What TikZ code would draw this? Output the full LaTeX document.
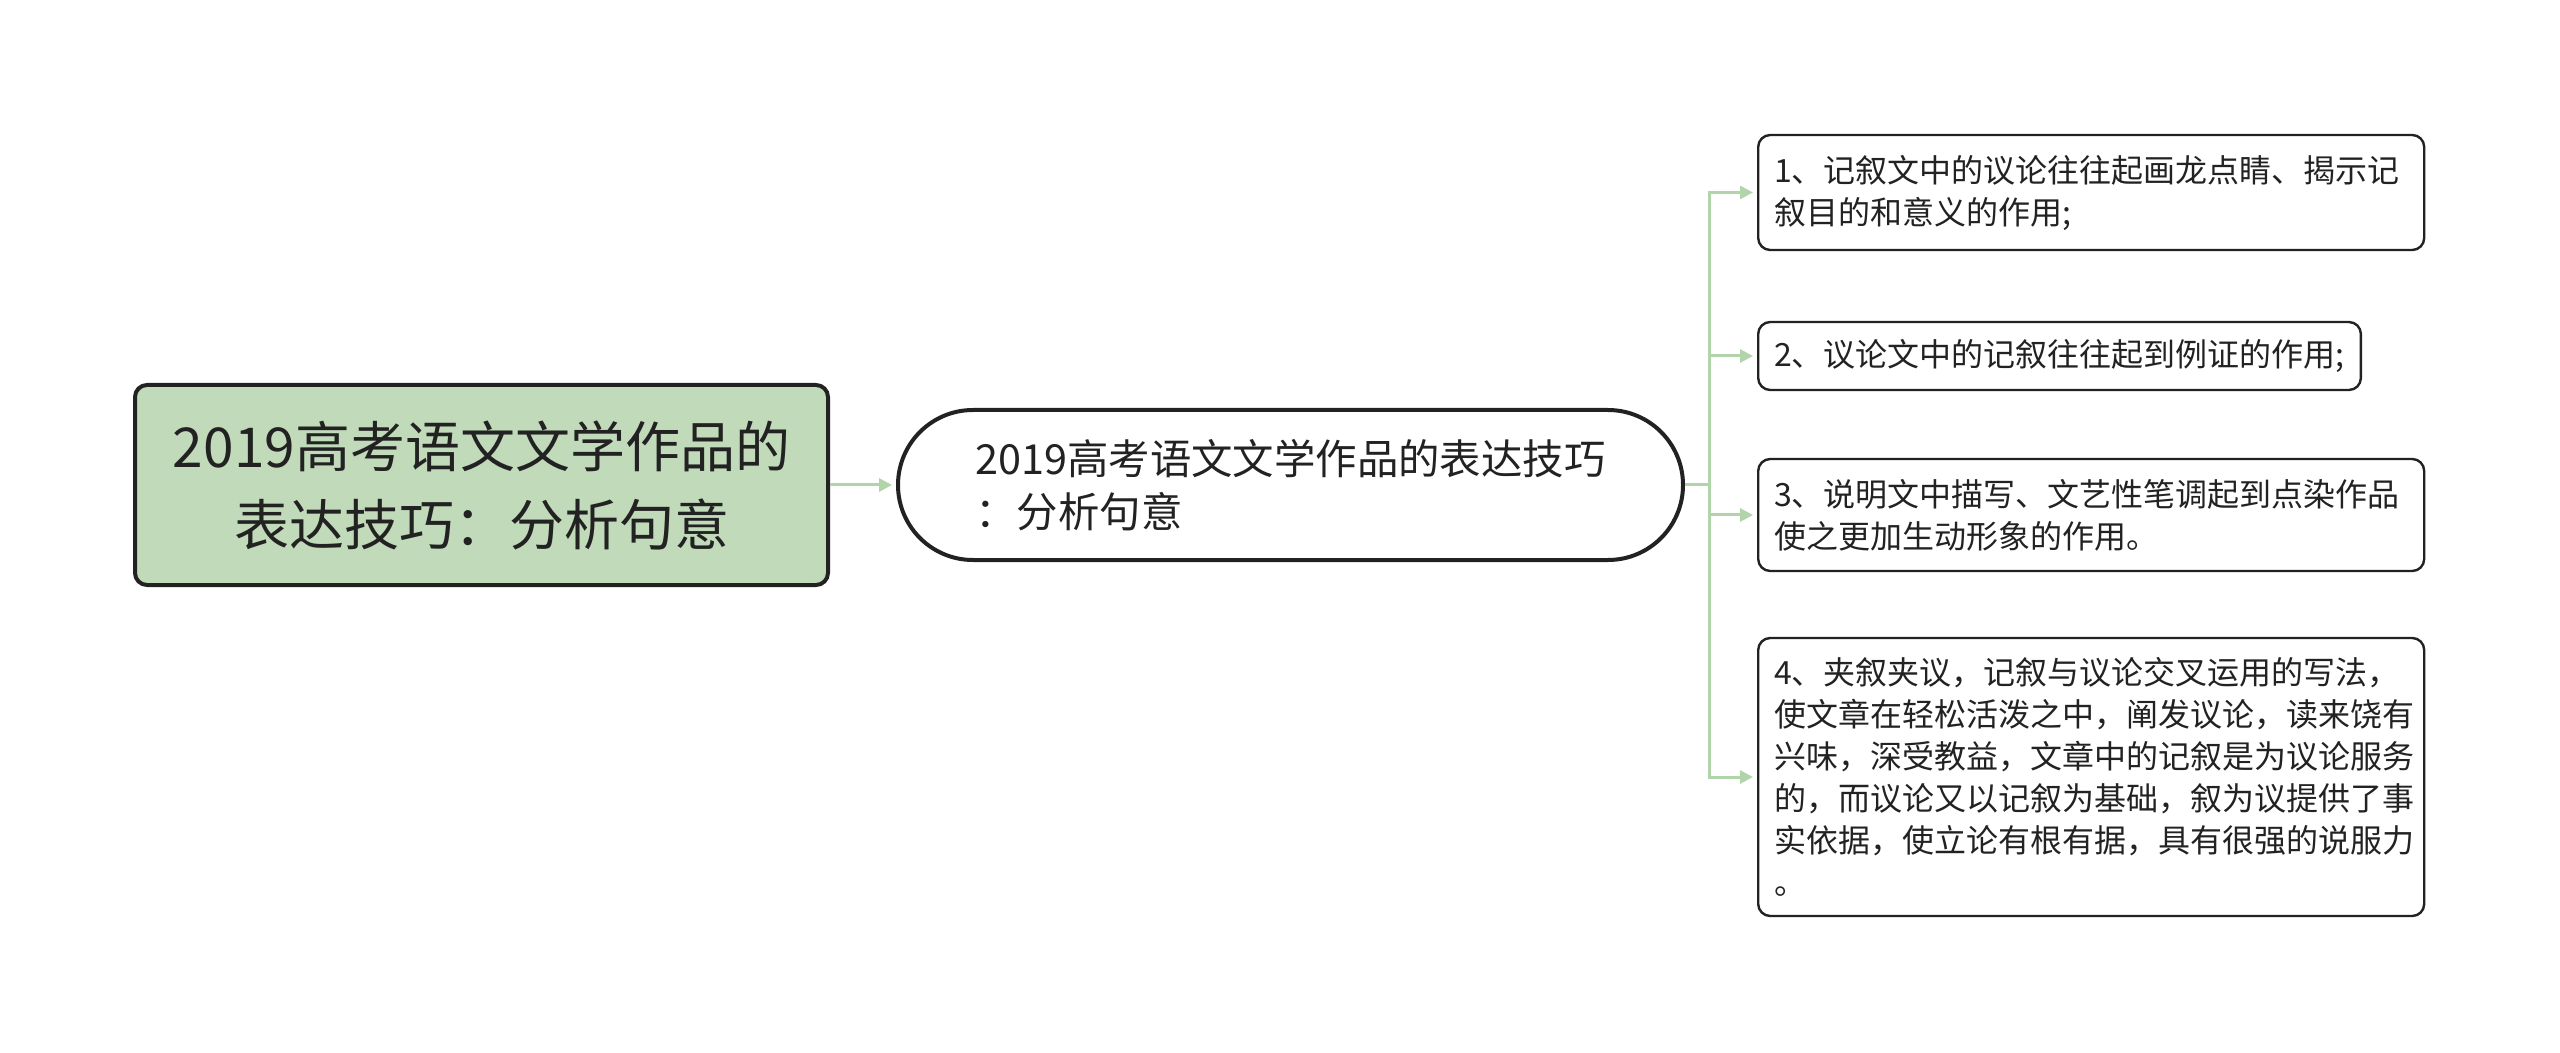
\documentclass[tikz,border=0pt]{standalone}
\usepackage{fontspec}
\setmainfont{Noto Sans CJK SC}
\usetikzlibrary{arrows.meta}
\definecolor{rootgreen}{RGB}{193,219,186}
\definecolor{linkgreen}{RGB}{178,212,170}
\definecolor{inkgray}{RGB}{34,34,34}
\begin{document}
\begin{tikzpicture}[x=0.5pt,y=-0.5pt,
  rootbox/.style={draw=inkgray, line width=2pt, fill=rootgreen, rounded corners=6pt,
    minimum width=346.5pt, minimum height=100pt, align=center, text=inkgray,
    font=\fontsize{27.5}{39}\selectfont},
  topicbox/.style={draw=inkgray, line width=2pt, rounded corners=37.5pt,
    minimum width=392.5pt, minimum height=75pt, align=left, text=inkgray,
    font=\fontsize{20.7}{26.5}\selectfont},
  leafbox/.style={draw=inkgray, line width=1.2pt, rounded corners=6pt, anchor=west,
    inner xsep=8pt, align=left, text=inkgray, font=\fontsize{16}{21}\selectfont},
  link/.style={draw=linkgreen, line width=1.5pt, -{Triangle[length=6.5pt,width=6.5pt]}, shorten >=2pt}]

% Fond
\useasboundingbox (0,0) rectangle (2560,1053);

% Noeud racine
\node[rootbox] (root) at (481.5,485) {2019高考语文文学作品的\\表达技巧：分析句意};

% Noeud central
\node[topicbox] (topic) at (1290.5,485) {2019高考语文文学作品的表达技巧\\：分析句意};

% Feuilles
\node[leafbox, text width=317pt, minimum height=57.5pt] (leafa) at (1757,192.5)
  {1、记叙文中的议论往往起画龙点睛、揭示记\\叙目的和意义的作用;};
\node[leafbox, minimum height=34pt] (leafb) at (1757,356)
  {2、议论文中的记叙往往起到例证的作用;};
\node[leafbox, text width=317pt, minimum height=56pt] (leafc) at (1757,515)
  {3、说明文中描写、文艺性笔调起到点染作品\\使之更加生动形象的作用。};
\node[leafbox, text width=317pt, minimum height=139pt] (leafd) at (1757,777)
  {4、夹叙夹议，记叙与议论交叉运用的写法，\\使文章在轻松活泼之中，阐发议论，读来饶有\\兴味，深受教益，文章中的记叙是为议论服务\\的，而议论又以记叙为基础，叙为议提供了事\\实依据，使立论有根有据，具有很强的说服力\\。};

% Liens
\draw[link] (root.east) -- (topic.west);
\coordinate (fork) at (1709,485);
\draw[link] (topic.east) -- (fork) |- (leafa.west);
\draw[link] (fork) |- (leafb.west);
\draw[link] (fork) |- (leafc.west);
\draw[link] (fork) |- (leafd.west);

\end{tikzpicture}
\end{document}
